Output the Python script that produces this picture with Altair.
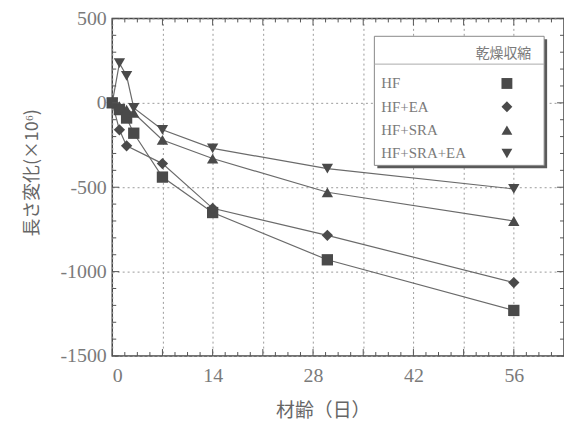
import altair as alt
import pandas as pd

# ---------------- data ----------------
names = ["HF", "HF+EA", "HF+SRA", "HF+SRA+EA"]
shapes = ["square", "diamond", "triangle-up", "triangle-down"]

hf_days = [0, 1, 2, 3, 7, 14, 30, 56]
hf_vals = [0, -40, -90, -180, -440, -650, -930, -1230]

ea_days = [0, 1, 2, 7, 14, 30, 56]
ea_vals = [0, -160, -255, -360, -625, -785, -1065]

sra_days = [0, 1, 2, 3, 7, 14, 30, 56]
sra_vals = [0, -20, -40, -60, -220, -330, -530, -700]

srea_days = [0, 1, 2, 3, 7, 14, 30, 56]
srea_vals = [0, 235, 160, -30, -160, -270, -390, -510]

x_major = [0, 7, 14, 21, 28, 35, 42, 49, 56]
x_minor = [1.75, 3.5, 5.25, 8.75, 10.5, 12.25, 15.75, 17.5, 19.25,
           22.75, 24.5, 26.25, 29.75, 31.5, 33.25, 36.75, 38.5, 40.25,
           43.75, 45.5, 47.25, 50.75, 52.5, 54.25, 57.75, 59.5, 61.25]
y_major = [-1500, -1000, -500, 0, 500]
y_minor = [-1400, -1300, -1200, -1100, -900, -800, -700, -600,
           -400, -300, -200, -100, 100, 200, 300, 400]

rows = []
for name, days, vals in [(names[0], hf_days, hf_vals), (names[1], ea_days, ea_vals),
                         (names[2], sra_days, sra_vals), (names[3], srea_days, srea_vals)]:
    for d, v in zip(days, vals):
        rows.append({"series": name, "day": d, "value": v})
df = pd.DataFrame(rows)

W, H = 455, 340
INK = "#4a4a4a"
TXT = "#7a7a7a"
SERIF = "Liberation Serif"
CJK = "Noto Sans CJK JP"

xs = alt.Scale(domain=[0, 63], nice=False, zero=False)
ys = alt.Scale(domain=[-1500, 500], nice=False, zero=False)

x_axis = alt.Axis(values=x_major, labelExpr="datum.value % 14 === 0 ? datum.label : ''",
                  grid=True, gridDash=[2, 3], gridColor="#9a9a9a", gridWidth=1,
                  domain=False, ticks=False, labelFont=SERIF, labelFontSize=20,
                  labelColor=TXT, labelPadding=10, title="材齢（日）",
                  titleFont=CJK, titleFontSize=19, titleFontWeight="normal",
                  titleColor="#666666", titleX=212, titleY=55, titleBaseline="middle")
y_axis = alt.Axis(values=y_major, labelExpr="'' + datum.value", grid=True, gridDash=[2, 3],
                  gridColor="#9a9a9a", gridWidth=1, domain=False, ticks=False,
                  labelFont=SERIF, labelFontSize=20, labelColor=TXT, labelPadding=6,
                  title="長さ変化(×10⁶)", titleFont=CJK, titleFontSize=18,
                  titleFontWeight="normal", titleColor="#666666", titleX=-80, titleY=155,
                  titleBaseline="middle", titleAngle=-90)

x_enc = alt.X("day:Q", scale=xs, axis=x_axis)
y_enc = alt.Y("value:Q", scale=ys, axis=y_axis)

base = alt.Chart(df)

lines = base.mark_line(color="#6a6a6a", strokeWidth=1.2).encode(
    x=x_enc, y=y_enc, detail="series:N",
)

points = base.mark_point(filled=True, color=INK, opacity=1, size=130).encode(
    x=x_enc, y=y_enc,
    shape=alt.Shape("series:N", scale=alt.Scale(domain=names, range=shapes),
                    legend=alt.Legend(title=None, orient="none", legendX=252, legendY=58,
                                      padding=0, symbolOffset=138,
                                      labelOffset={"expr": "-134"},
                                      labelFont=SERIF, labelFontSize=15, labelColor=TXT,
                                      symbolSize=120, symbolFillColor=INK,
                                      symbolStrokeWidth=0, rowPadding=7.5)),
)

# inward tick marks on all four sides (same scales and axis definitions)
def ticks_x(vals, length):
    d = pd.DataFrame({"day": vals})
    bottom = alt.Chart(d).mark_rule(color="#555555", strokeWidth=1).encode(
        x=x_enc, y=alt.value(H - length), y2=alt.value(H))
    top = alt.Chart(d).mark_rule(color="#555555", strokeWidth=1).encode(
        x=x_enc, y=alt.value(0), y2=alt.value(length))
    return [bottom, top]

def ticks_y(vals, length):
    d = pd.DataFrame({"value": vals})
    left = alt.Chart(d).mark_rule(color="#555555", strokeWidth=1).encode(
        y=y_enc, x=alt.value(0), x2=alt.value(length))
    right = alt.Chart(d).mark_rule(color="#555555", strokeWidth=1).encode(
        y=y_enc, x=alt.value(W - length), x2=alt.value(W))
    return [left, right]

tick_layers = ticks_x(x_major, 7) + ticks_x(x_minor, 4) + ticks_y(y_major, 7) + ticks_y(y_minor, 4)

# legend box decoration
one = alt.Data(values=[{"t": "乾燥収縮"}])
shadow = alt.Chart(one).mark_rect(fill="#5a5a5a").encode(
    x=alt.value(267), x2=alt.value(438), y=alt.value(21), y2=alt.value(151))
box = alt.Chart(one).mark_rect(fill="white", stroke="#888888", strokeWidth=1).encode(
    x=alt.value(264), x2=alt.value(435), y=alt.value(18), y2=alt.value(148))
sep = alt.Chart(one).mark_rule(color="#aaaaaa", strokeWidth=1).encode(
    x=alt.value(264), x2=alt.value(435), y=alt.value(46))
ltitle = alt.Chart(one).mark_text(font=CJK, fontSize=14, color=TXT, align="right",
                                  baseline="middle").encode(
    x=alt.value(422), y=alt.value(36), text="t:N")

chart = alt.layer(lines, points, *tick_layers, shadow, box, sep, ltitle).properties(
    width=W, height=H, background="white",
    autosize=alt.AutoSizeParams(type="none"),
    padding={"left": 105, "top": 9, "right": 0, "bottom": 72},
).configure_view(stroke="#444444", strokeWidth=1.5)

chart.save("out.html", embed_options={"renderer": "svg", "actions": False})
